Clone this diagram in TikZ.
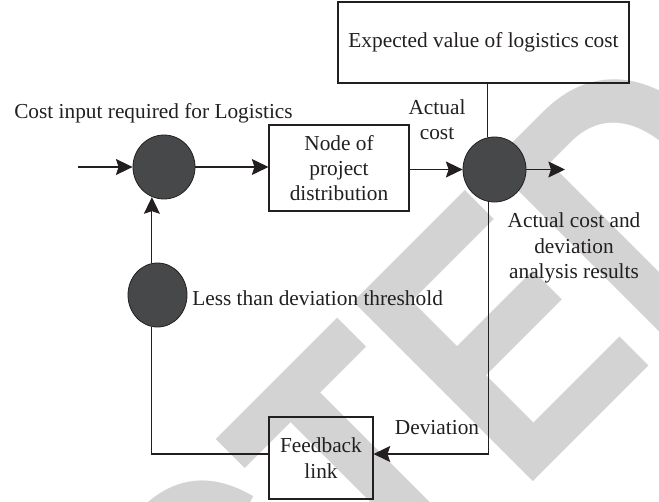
\documentclass[tikz,border=0pt]{standalone}
\usepackage{fontspec}
\setmainfont{Liberation Serif}
\newfontfamily\wmfont{Liberation Sans}
\usetikzlibrary{shapes.geometric,arrows.meta,calc}

\definecolor{ink}{RGB}{35,31,32}
\definecolor{dot}{RGB}{71,72,74}
\definecolor{wmgray}{RGB}{211,211,211}

\begin{document}
\begin{tikzpicture}[x=0.75pt,y=-0.75pt,
  lbl/.style={inner sep=0pt,text=ink,font=\fontsize{16}{19}\selectfont,align=center},
  boxnode/.style={draw=ink,line width=0.8pt,inner sep=0pt,lbl},
  dotnode/.style={ellipse,draw=ink,fill=dot,line width=0.6pt,inner sep=0pt},
  wire/.style={draw=ink,line width=0.8pt},
  arr/.style={wire,-{Stealth[length=12.5pt,width=12pt,inset=2pt]}},
  wm/.style={text=wmgray,inner sep=0pt,font=\wmfont\bfseries\fontsize{277}{277}\selectfont}]

\useasboundingbox (0,0) rectangle (659,502);

% watermark lettering
\begin{scope}
  \clip (0,0) rectangle (659,502);
  \node[wm,rotate=45,xscale=0.79,anchor=base east] (stamp) at (806.3,208.7) {RETRACTED};
\end{scope}

% blocks
\node[boxnode,minimum width=218.25pt,minimum height=60.75pt] (exp) at (483.5,42.5) {Expected value of logistics cost};
\node[boxnode,minimum width=105pt,minimum height=64.5pt] (dist) at (339,168) {Node of\\project\\distribution};
\node[boxnode,minimum width=78pt,minimum height=61.5pt] (fb) at (321,458) {Feedback\\link};

% junctions
\node[dotnode,minimum width=46.5pt,minimum height=48pt] (c1) at (164,167) {};
\node[dotnode,minimum width=47.25pt,minimum height=48.75pt] (c2) at (494.5,169.5) {};
\node[dotnode,minimum width=44.25pt,minimum height=48pt] (c3) at (157.5,295) {};

% labels
\node[lbl] (lin) at (153.5,113) {Cost input required for Logistics};
\node[lbl] (lact) at (437,120) {Actual\\cost};
\node[lbl] (lres) at (574,248) {Actual cost and\\deviation\\analysis results};
\node[lbl,anchor=west] (lthr) at (192,298) {Less than deviation threshold};
\node[lbl] (ldev) at (437,428) {Deviation};

% free ends and feedback rail
\coordinate (in) at (78,167);
\coordinate (out) at (565,169.5);
\coordinate (fbR) at ([yshift=3pt]fb.east);
\coordinate (fbL) at ([yshift=3pt]fb.west);

% connectors
\draw[arr] (in) -- (c1.west);
\draw[arr] (c1.east) -- (c1.east -| dist.west);
\draw[arr] (dist.east |- c2.west) -- (c2.west);
\draw[arr] (c2.east) -- (out);
\draw[wire] (c2.102 |- exp.south) -- (c2.102);
\draw[arr] (c2.-100) |- (fbR);
\draw[wire] (fbL) -| (c3.-100);
\draw[arr] (c3.100) -- (c3.100 |- c1.-111);

\end{tikzpicture}
\end{document}
